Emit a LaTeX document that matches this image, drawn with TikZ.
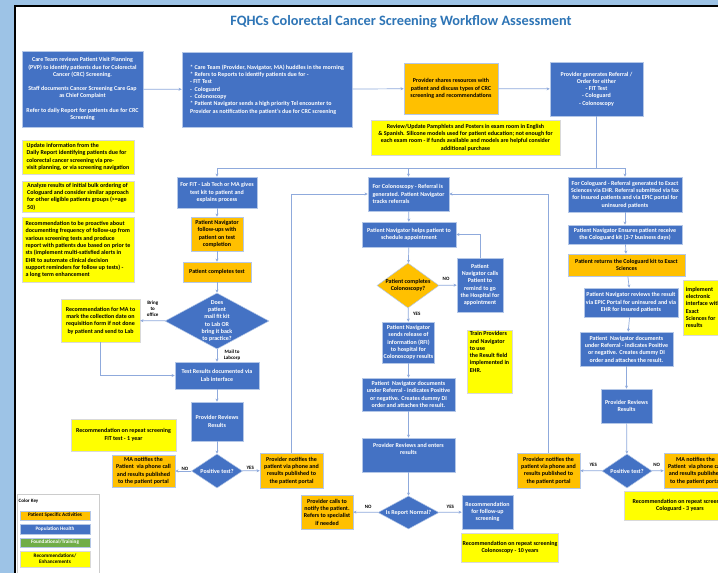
\documentclass[tikz,border=0pt]{standalone}
\usepackage{fontspec}
\setmainfont{Carlito}
\usetikzlibrary{arrows.meta, shapes.geometric, positioning}
\definecolor{frameblue}{RGB}{157,195,230}
\definecolor{pop}{RGB}{68,114,196}
\definecolor{pat}{RGB}{255,192,0}
\definecolor{rec}{RGB}{255,255,0}
\definecolor{found}{RGB}{112,173,71}
\definecolor{boxline}{RGB}{180,199,231}
\definecolor{flowline}{RGB}{143,170,220}
\definecolor{titleblue}{RGB}{46,117,182}

\begin{document}
\begin{tikzpicture}[
		x=1pt, y=-1pt,
		every node/.style={font=\fontsize{6}{7.3}\selectfont\bfseries},
		wh/.style 2 args={minimum width=#1pt, minimum height=#2pt},
		box/.style={draw=boxline, line width=0.5pt, inner sep=1pt, align=center},
		popbox/.style={box, fill=pop, text=white},
		patbox/.style={box, fill=pat, text=black},
		recbox/.style={box, fill=rec, draw=black!15, text=black},
		keybox/.style={box, wh={70}{9}, font=\fontsize{5.2}{6}\selectfont\bfseries},
		decision/.style={diamond, draw=boxline, line width=0.5pt, fill=pop, inner sep=0pt},
		dtext/.style={align=center, inner sep=0pt},
		tag/.style={align=center, text=black, inner sep=0.5pt, font=\fontsize{5}{6}\selectfont\bfseries},
		flow/.style={draw=flowline, line width=0.7pt, -{Stealth[length=3.2pt, width=3pt]}},
		link/.style={draw=flowline, line width=0.7pt}
		]

	% Page frame
	\useasboundingbox (0,0) rectangle (718,573);
	\clip (0,0) rectangle (718,573);
	\fill[frameblue] (0,0) rectangle (718,573);
	\draw[line width=2pt, fill=white] (15,6) rectangle (760,620);

	\node[font=\fontsize{14.3}{17}\selectfont\bfseries, text=titleblue] (title) at (401,22) {FQHCs Colorectal Cancer Screening Workflow Assessment};

	% Top row
	\node[popbox, wh={121}{76}] (pvp) at (82.5,89) {Care Team reviews Patient Visit Planning\\(PVP) to identify patients due for Colorectal\\Cancer (CRC) Screening.\\[7pt]Staff documents Cancer Screening Care Gap\\as Chief Complaint\\[7pt]Refer to daily Report for patients due for CRC\\Screening};
	\node[popbox, wh={170}{75}, align=left] (huddle) at (267,89.5) {* Care Team (Provider, Navigator, MA) huddles in the morning\\* Refers to Reports to identify patients due for -\\- FIT Test\\-\ \ Cologuard\\-\ \ Colonoscopy\\* Patient Navigator sends a high priority Tel encounter to\\Provider as notification the patient's due for CRC screening};
	\node[patbox, wh={94}{51}] (share) at (451,88.5) {Provider shares resources with\\patient and discuss types of CRC\\screening and recommendations};
	\node[popbox, wh={93}{54}] (order) at (596.5,89) {Provider generates Referral /\\Order for either\\- FIT Test\\- Cologuard\\- Colonoscopy};
	\node[recbox, wh={189}{35}] (pamph) at (465.5,137.5) {Review/Update Pamphlets and Posters in exam room in English\\\& Spanish. Silicone models used for patient education; not enough for\\each exam room - if funds available and models are helpful consider\\additional purchase};

	\draw[flow] (pvp) -- (huddle);
	\draw[flow] (huddle) -- (share);
	\draw[flow] (share) -- (order);

	% Split to the three tests
	\coordinate (bus) at (596.5,168);
	\draw[link] (order.south) -- (bus);

	% Notes on the left
	\node[recbox, wh={112}{34}, align=left] (note1) at (78,157) {Update information from the\\Daily Report identifying patients due for\\colorectal cancer screening via pre-\\visit planning, or via screening navigation};
	\node[recbox, wh={112}{31}, align=left] (note2) at (78,196.5) {Analyze results of initial bulk ordering of\\Cologuard and consider similar approach\\for other eligible patients groups (>=age\\50)};
	\node[recbox, wh={112}{65}, align=left] (note3) at (78,249.5) {Recommendation to be proactive about\\documenting frequency of follow-up from\\various screening tests and produce\\report with patients due based on prior te\\sts (implement multi-satisfied alerts in\\EHR to automate clinical decision\\support reminders for follow up tests) -\\a long term enhancement};

	% FIT
	\node[popbox, wh={80}{31}] (fit1) at (217,192.5) {For FIT - Lab Tech or MA gives\\test kit to patient and\\explains process};
	\node[patbox, wh={52}{34}] (fit2) at (217,234) {Patient Navigator\\follow-ups with\\patient on test\\completion};
	\node[patbox, wh={68}{20}] (fit3) at (217,272) {Patient completes test};
	\node[decision, wh={104}{56}] (fitq) at (217,321) {};
	\node[dtext, text=white] (fitqt) at (fitq.center) {Does\\patient\\mail fit kit\\to Lab OR\\bring it back\\to practice?};
	\node[recbox, wh={79}{43}] (fitrec) at (100.5,320.5) {Recommendation for MA to\\mark the collection date on\\requisition form if not done\\by patient and send to Lab};
	\node[popbox, wh={84}{27}] (fit4) at (217,375.5) {Test Results documented via\\Lab interface};
	\node[popbox, wh={52}{39}] (fit5) at (217,421.5) {Provider Reviews\\Results};
	\node[decision, wh={51}{34}] (fitp) at (217,471) {};
	\node[dtext, text=white] (fitpt) at (fitp.center) {Positive test?};
	\node[recbox, wh={105}{32}] (fitrep) at (123.5,435) {Recommendation on repeat screening\\FIT test - 1 year};
	\node[patbox, wh={63}{32}] (ma1) at (143.5,471) {MA notifies the\\Patient\ \ via phone call\\and results published\\to the patient portal};
	\node[patbox, wh={63}{35}] (pn1) at (291.5,470.5) {Provider notifies the\\patient via phone and\\results published to\\the patient portal};

	\draw[flow] (bus) -| (fit1.north);
	\draw[flow] (fit1) -- (fit2);
	\draw[flow] (fit2) -- (fit3);
	\draw[flow] (fit3) -- (fitq);
	\draw[flow] (fitq) -- (fit4) node[tag, midway, right=6pt] (mail) {Mail to\\Labcorp};
	\draw[flow] (fitq) -- (fitrec) node[tag, midway, above=3pt] (office) {Bring\\to\\office};
	\draw[flow] (fitrec.south) |- (fit4.west);
	\draw[flow] (fit4) -- (fit5);
	\draw[flow] (fit5) -- (fitp);
	\draw[flow] (fitp) -- (ma1) node[tag, pos=0.4, above] (fitno) {NO};
	\draw[flow] (fitp) -- (pn1) node[tag, pos=0.45, above] (fityes) {YES};

	% Colonoscopy
	\node[popbox, wh={81}{34}, align=left] (col1) at (408.5,194) {For Colonoscopy - Referral is\\generated. Patient Navigator\\tracks referrals};
	\node[popbox, wh={94}{25}] (col2) at (409,234.5) {Patient Navigator helps patient to\\schedule appointment};
	\node[decision, fill=pat, wh={62}{45}] (colq) at (408,285.5) {};
	\node[dtext, text=black] (colqt) at (colq.center) {Patient completes\\Colonoscopy?};
	\node[popbox, wh={46}{54}] (colrem) at (480,285) {Patient\\Navigator calls\\Patient to\\remind to go\\the Hospital for\\appointment};
	\node[popbox, wh={51}{41}] (col3) at (408.5,342.5) {Patient Navigator\\sends release of\\information (RFI)\\to hospital for\\Colonoscopy results};
	\node[recbox, wh={45}{63}, align=left] (coltrain) at (489.5,361.5) {Train Providers\\and Navigator\\to use\\the Result field\\implemented in\\EHR.\\[12pt]\mbox{}};
	\node[popbox, wh={93}{33}] (col4) at (408.5,394.5) {Patient\ \ Navigator documents\\under Referral - indicates Positive\\or negative. Creates dummy DI\\order and attaches the result.};
	\node[popbox, wh={93}{34}] (col5) at (408.5,455) {Provider Reviews and enters\\results\\[5pt]\mbox{}};
	\node[decision, wh={61}{33}] (colnorm) at (408.5,512.5) {};
	\node[dtext, text=white] (colnormt) at (colnorm.center) {Is Report Normal?};
	\node[patbox, wh={52}{34}] (colcall) at (327,512) {Provider calls to\\notify the patient.\\Refers to specialist\\if needed};
	\node[popbox, wh={51}{34}] (colfol) at (487.5,512) {Recommendation\\for follow-up\\screening};
	\node[recbox, wh={96}{29}] (colrep) at (510,547.5) {Recommendation on repeat screening\\Colonoscopy - 10 years};

	\draw[flow] (bus) -| (col1.north);
	\draw[flow] (pn1.north) |- (col1.west);
	\draw[flow] (col1) -- (col2);
	\draw[flow] (col2) -- (colq);
	\draw[flow] (colq) -- (colrem) node[tag, pos=0.4, above=4pt] (colno) {NO};
	\draw[flow] (colrem.north) |- (col2.east);
	\draw[flow] (colq) -- (col3) node[tag, pos=0.4, right=4pt] (colyes) {YES};
	\draw[flow] (col3) -- (col4);
	\draw[flow] (col4) -- (col5);
	\draw[flow] (col5) -- (colnorm);
	\draw[flow] (colnorm) -- (colcall) node[tag, pos=0.4, above=3pt] (normno) {NO};
	\draw[flow] (colnorm) -- (colfol) node[tag, pos=0.5, above=3pt] (normyes) {YES};

	% Cologuard
	\node[popbox, wh={114}{35}] (cg1) at (625,194.5) {For Cologuard - Referral generated to Exact\\Sciences via EHR. Referral submitted via fax\\for insured patients and via EPIC portal for\\uninsured patients};
	\node[popbox, wh={114}{19}] (cg2) at (625,234.5) {Patient Navigator Ensures patient receive\\the Cologuard kit (3-7 business days)};
	\node[patbox, wh={117}{22}] (cg3) at (626.5,265) {Patient returns the Cologuard kit to Exact\\Sciences};
	\node[popbox, wh={94}{29}] (cg4) at (631,302.5) {Patient Navigator reviews the result\\via EPIC Portal for uninsured and via\\EHR for insured patients};
	\node[recbox, wh={40}{55}, align=left, anchor=west] (cgimpl) at (683,307.5) {implement\\electronic\\interface with\\Exact\\Sciences for\\results};
	\node[popbox, wh={93}{34}] (cg5) at (626.5,349) {Patient\ \ Navigator documents\\under Referral - indicates Positive\\or negative. Creates dummy DI\\order and attaches the result.};
	\node[popbox, wh={51}{34}] (cg6) at (626.5,406) {Provider Reviews\\Results};
	\node[decision, wh={50}{34}] (cgp) at (627,471) {};
	\node[dtext, text=white] (cgpt) at (cgp.center) {Positive test?};
	\node[patbox, wh={63}{35}] (pn2) at (548.5,470.5) {Provider notifies the\\patient via phone and\\results published to\\the patient portal};
	\node[patbox, wh={63}{35}] (ma2) at (695.5,470.5) {MA notifies the\\Patient\ \ via phone call\\and results published\\to the patient portal};
	\node[recbox, wh={112}{29}] (cgrep) at (680,505.5) {Recommendation on repeat screening\\Cologuard - 3 years};

	\draw[flow] (bus) -| (cg1.north);
	\draw[flow] (cg1) -- (cg2);
	\draw[flow] (cg2) -- (cg3);
	\draw[flow] (cg3) -- (cg4);
	\draw[flow] (cg4) -- (cg5);
	\draw[flow] (cg5) -- (cg6);
	\draw[flow] (cg6) -- (cgp);
	\draw[flow] (cgp) -- (pn2) node[tag, pos=0.4, above=3pt] (cgyes) {YES};
	\draw[flow] (cgp) -- (ma2) node[tag, pos=0.4, above=3pt] (cgno) {NO};
	\draw[flow] (pn2.north) |- (col1.east);

	% Color key
	\node[draw=black!20, fill=white, wh={82}{100}, anchor=north west] (key) at (17,494) {};
	\node[tag, anchor=west] (keytitle) at (18,501) {Color Key};
	\node[keybox, fill=pat, text=black] (keypat) at (55,515.5) {Patient Specific Activities};
	\node[keybox, fill=pop, text=white, wh={70}{10}] (keypop) at (55,529) {Population Health};
	\node[keybox, fill=found, text=white] (keyfound) at (55,542.5) {Foundational/Training};
	\node[keybox, fill=rec, draw=black!15, text=black, wh={70}{16}] (keyrec) at (55,559) {Recommendations/\\Enhancements};

\end{tikzpicture}
\end{document}
